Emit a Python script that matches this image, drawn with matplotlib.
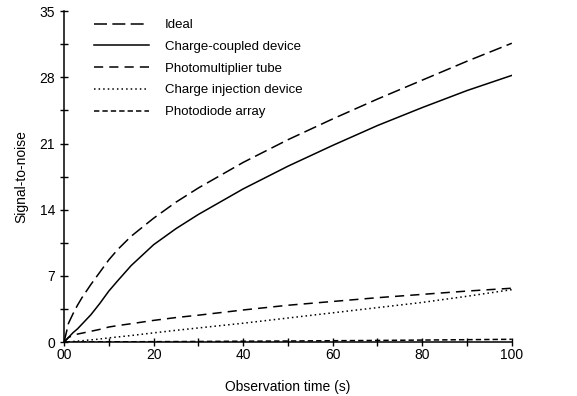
import numpy as np
import matplotlib
matplotlib.use('Agg')
import matplotlib.pyplot as plt
from matplotlib.ticker import MultipleLocator, FixedLocator

# observation time (s) and S/N values
t = [0, 1, 2, 3, 4, 5, 6, 8, 10, 12, 15, 20, 25, 30, 40, 50, 60, 70, 80, 90, 100]
ideal = [0, 2.0, 3.0, 3.9, 4.7, 5.4, 6.1, 7.4, 8.7, 9.8, 11.2, 13.1, 14.8, 16.3, 19.0, 21.4, 23.6, 25.7, 27.7, 29.7, 31.6]
ccd = [0, 0.5, 1.0, 1.4, 1.9, 2.4, 2.9, 4.1, 5.4, 6.5, 8.1, 10.3, 12.0, 13.5, 16.2, 18.6, 20.8, 22.9, 24.8, 26.6, 28.2]
pmt = [0, 0.5, 0.7, 0.85, 0.95, 1.05, 1.15, 1.35, 1.6, 1.75, 1.95, 2.3, 2.6, 2.85, 3.4, 3.9, 4.3, 4.7, 5.05, 5.4, 5.7]
cid = [0, 0.03, 0.07, 0.11, 0.15, 0.2, 0.24, 0.33, 0.45, 0.55, 0.7, 0.98, 1.25, 1.5, 2.0, 2.55, 3.1, 3.65, 4.2, 4.85, 5.55]
pda = [0, 0.01, 0.01, 0.01, 0.02, 0.02, 0.02, 0.03, 0.03, 0.04, 0.04, 0.05, 0.06, 0.07, 0.1, 0.12, 0.15, 0.18, 0.22, 0.26, 0.3]

labels = ['Ideal', 'Charge-coupled device', 'Photomultiplier tube',
          'Charge injection device', 'Photodiode array']
y_ticks = [0, 7, 14, 21, 28, 35]
x_ticks = [0, 20, 40, 60, 80, 100]
x_ticklabels = ['00', '20', '40', '60', '80', '100']

plt.rcParams['font.family'] = ['Liberation Sans', 'DejaVu Sans']

fig = plt.figure(figsize=(5.77, 3.96), dpi=100)
ax = fig.add_axes([0.111, 0.136, 0.776, 0.836])

series = [ideal, ccd, pmt, cid, pda]
styles = [(0, (8.5, 3.5)), '-', (0, (6, 4)), (0, (1, 2)), (0, (3.5, 2))]
for vals, ls, lab in zip(series, styles, labels):
    ax.plot(t, vals, color='black', linestyle=ls, linewidth=1.1, label=lab)

ax.set_xlim(0, 100)
ax.set_ylim(0, 35)
for side in ['top', 'right']:
    ax.spines[side].set_visible(False)
for side in ['left', 'bottom']:
    ax.spines[side].set_linewidth(1.1)

ax.yaxis.set_major_locator(FixedLocator(y_ticks))
ax.yaxis.set_minor_locator(MultipleLocator(3.5))
ax.xaxis.set_major_locator(FixedLocator(x_ticks))
ax.xaxis.set_minor_locator(MultipleLocator(10))
ax.set_xticklabels(x_ticklabels)
ax.tick_params(which='both', direction='inout', length=6, width=1.0, labelsize=10)
ax.tick_params(axis='x', pad=1.5)

ax.set_xlabel('Observation time (s)', fontsize=10, labelpad=13)
ax.set_ylabel('Signal-to-noise', fontsize=10, labelpad=8)

ax.legend(loc='upper left', bbox_to_anchor=(0.163, 0.952), bbox_transform=fig.transFigure,
          frameon=False, fontsize=9.5, handlelength=4.2, handletextpad=1.15,
          labelspacing=0.72, borderpad=0, borderaxespad=0)

fig.savefig('out.png', dpi=100)
